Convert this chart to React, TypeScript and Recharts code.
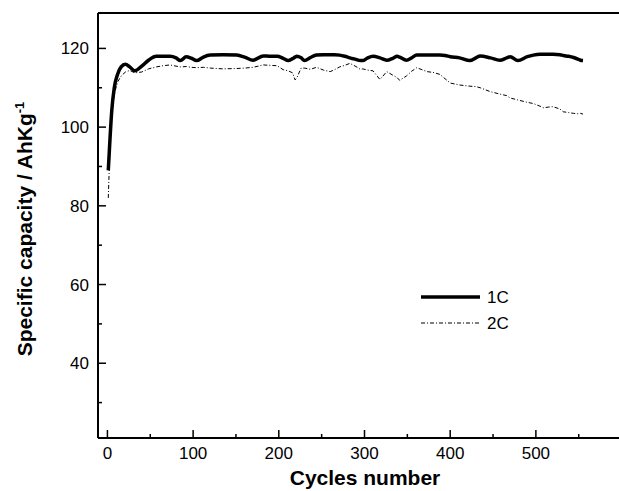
import { LineChart, Line, XAxis, YAxis, ReferenceLine, Legend } from "recharts";

const FONT = "'Liberation Sans', Arial, Helvetica, sans-serif";

// cycle numbers sampled along both curves
const cycles = [
  1, 3, 5, 8, 12, 16, 21, 26, 32, 40, 48, 57, 65, 73, 80, 85, 92, 98, 104, 112,
  120, 135, 151, 160, 170, 182, 190, 198, 205, 211, 216, 219, 221, 226, 230, 237,
  244, 252, 260, 265, 271, 277, 283, 290, 295, 298, 303, 310, 318, 326, 333, 338,
  341, 349, 355, 361, 367, 373, 380, 388, 394, 400, 411, 423, 430, 435, 447, 458,
  466, 470, 479, 490, 497, 505, 509, 515, 520, 528, 532, 538, 544, 549, 552, 555,
];

const capacity1C = [
  89, 97, 104, 110, 113.5, 115.3, 116, 115.3, 114.3, 115.5, 117, 118, 118, 118,
  117.6, 116.9, 117.9, 117.5, 116.9, 117.8, 118.3, 118.4, 118.3, 117.8, 117.0,
  118.1, 118.0, 118.0, 117.5, 116.9, 117.4, 117.8, 118.0, 117.6, 116.9, 117.7,
  118.3, 118.4, 118.4, 118.4, 118.3, 118.0, 117.6, 117.2, 116.9, 116.9, 117.5,
  118.0, 117.6, 117.0, 117.5, 118.0, 117.8, 117.0, 117.6, 118.3, 118.3, 118.3,
  118.3, 118.3, 118.2, 117.9, 117.6, 116.9, 117.6, 118.1, 117.6, 117.0, 117.6,
  117.9, 116.9, 117.9, 118.3, 118.5, 118.5, 118.5, 118.5, 118.4, 118.2, 118.0,
  117.7, 117.3, 117.0, 116.9,
];

const capacity2C = [
  82, 95, 103.5, 108.5, 111.5, 113, 114, 114.4, 113.8, 114, 114.8, 115.3, 115.6,
  115.8, 115.5, 115.3, 115.4, 115.2, 115.1, 115.2, 115.0, 114.8, 114.9, 115.0,
  115.2, 115.8, 115.7, 115.6, 114.6, 114.3, 113.8, 112.0, 112.5, 115.0, 115.0,
  114.7, 115.2, 114.5, 114.1, 114.6, 115.3, 115.7, 116.2, 115.4, 114.7, 114.8,
  114.5, 114.3, 112.1, 114.1, 113.2, 112.6, 111.9, 113.0, 114.2, 115.1, 114.6,
  114.1, 113.9, 113.4, 112.3, 111.2, 110.7, 110.4, 110.3, 110.0, 109.0, 108.4,
  108.0, 107.4, 106.9, 106.3, 106.0, 105.3, 104.9, 105.1, 105.2, 104.6, 103.9,
  103.7, 103.5, 103.4, 103.5, 103.3,
];

const xTicks = [0, 50, 100, 150, 200, 250, 300, 350, 400, 450, 500, 550];
const yTicks = [30, 40, 50, 60, 70, 80, 90, 100, 110, 120];
const xDomain = [-11, 597];
const yDomain = [21, 129];

const data = cycles.map((c, i) => ({
  cycle: c,
  c1: capacity1C[i],
  c2: capacity2C[i],
}));

const XTick = ({ x, y, payload }: any) => {
  const major = payload.value % 100 === 0;
  return (
    <g>
      <line x1={x} x2={x} y1={y} y2={y - (major ? 8 : 4)} stroke="#000" strokeWidth={1.5} />
      {major && (
        <text x={x} y={y + 21} textAnchor="middle" fontSize={17} fontFamily={FONT} fill="#000">
          {payload.value}
        </text>
      )}
    </g>
  );
};

const YTick = ({ x, y, payload }: any) => {
  const major = payload.value % 20 === 0;
  return (
    <g>
      <line x1={x} x2={x + (major ? 8 : 4)} y1={y} y2={y} stroke="#000" strokeWidth={1.5} />
      {major && (
        <text x={x - 9} y={y + 6} textAnchor="end" fontSize={17} fontFamily={FONT} fill="#000">
          {payload.value}
        </text>
      )}
    </g>
  );
};

const LegendBox = () => (
  <svg width={120} height={56}>
    <line x1={11} x2={70} y1={15} y2={15} stroke="#000" strokeWidth={3.5} />
    <text x={77} y={21} fontSize={17} fontFamily={FONT} fill="#000">1C</text>
    <line x1={11} x2={70} y1={41} y2={41} stroke="#000" strokeWidth={1} strokeDasharray="4 2 1 2" />
    <text x={77} y={47} fontSize={17} fontFamily={FONT} fill="#000">2C</text>
  </svg>
);

export default function App() {
  return (
    <div style={{ position: "absolute", left: 0, top: 0, background: "#fff" }}>
      <LineChart
        width={619}
        height={491}
        data={data}
        margin={{ top: 13, right: 0, bottom: 0, left: 0 }}
      >
        <XAxis
          dataKey="cycle"
          type="number"
          domain={xDomain}
          ticks={xTicks}
          interval={0}
          height={53}
          tickSize={0}
          tickMargin={0}
          tickLine={false}
          tick={<XTick />}
          axisLine={{ stroke: "#000", strokeWidth: 2 }}
          label={() => (
            <text x={365} y={485} textAnchor="middle" fontSize={21} fontWeight="bold" fontFamily={FONT} fill="#000">
              Cycles number
            </text>
          )}
        />
        <YAxis
          type="number"
          domain={yDomain}
          ticks={yTicks}
          interval={0}
          width={98}
          tickSize={0}
          tickMargin={0}
          tickLine={false}
          tick={<YTick />}
          axisLine={{ stroke: "#000", strokeWidth: 2 }}
          label={() => (
            <text
              x={32}
              y={229}
              transform="rotate(-90 32 229)"
              textAnchor="middle"
              fontSize={21}
              fontWeight="bold"
              fontFamily={FONT}
              fill="#000"
            >
              Specific capacity / AhKg
              <tspan dy={-8} fontSize={13}>-1</tspan>
            </text>
          )}
        />
        <ReferenceLine y={yDomain[1]} stroke="#000" strokeWidth={2} />
        <Legend
          layout="vertical"
          align="center"
          verticalAlign="middle"
          content={() => <LegendBox />}
          wrapperStyle={{ left: 410, top: 282, width: 120, height: 56 }}
        />
        <Line
          type="monotone"
          dataKey="c1"
          name="1C"
          stroke="#000"
          strokeWidth={3.5}
          dot={false}
          activeDot={false}
          isAnimationActive={false}
        />
        <Line
          type="linear"
          dataKey="c2"
          name="2C"
          stroke="#000"
          strokeWidth={1}
          strokeDasharray="4 2 1 2"
          dot={false}
          activeDot={false}
          isAnimationActive={false}
        />
      </LineChart>
    </div>
  );
}
